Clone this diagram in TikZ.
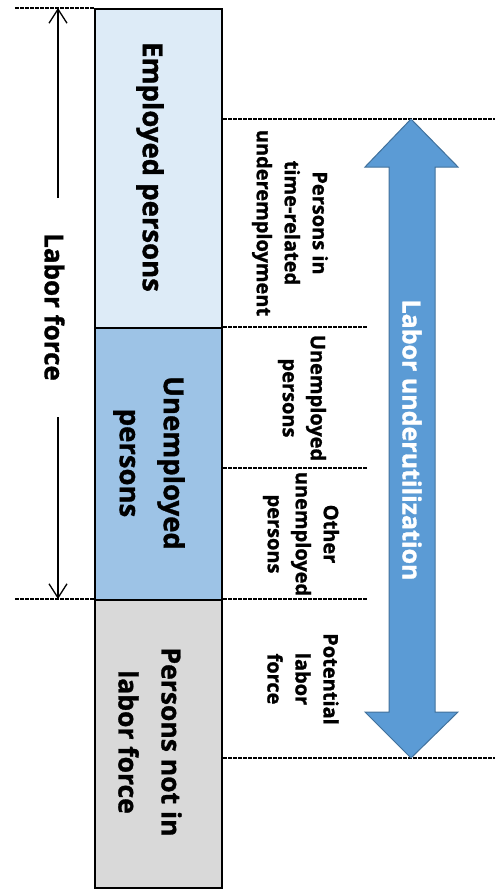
\documentclass[tikz,border=0pt]{standalone}
\usepackage{fontspec}
\setmainfont{Open Sans}[BoldFeatures={FakeBold=1.2}]
\usetikzlibrary{arrows.meta}
\definecolor{empfill}{HTML}{DDEBF7}
\definecolor{unfill}{HTML}{9DC3E6}
\definecolor{nlffill}{HTML}{D9D9D9}
\definecolor{arrfill}{HTML}{5B9BD5}
\definecolor{arredge}{HTML}{41719C}
\begin{document}
\begin{tikzpicture}[x=1pt,y=-1pt,
  colbox/.style={draw=black, line width=2.4pt, minimum width=127pt, inner sep=0pt, anchor=north west},
  bigtxt/.style={rotate=-90, font=\fontsize{27.5}{44}\selectfont\bfseries, align=center, inner sep=0pt},
  smalltxt/.style={rotate=-90, font=\fontsize{20}{28}\selectfont\bfseries, align=center, inner sep=0pt},
  sep/.style={line width=2.4pt, dash pattern=on 4pt off 1pt},
  lfarrow/.style={line width=1.3pt, -{Straight Barb[length=14pt,width=18pt]}}
]
\useasboundingbox (0,0) rectangle (500,894);
% column boxes
\node[colbox, fill=empfill, minimum height=319pt] (emp) at (94,8) {};
\node[colbox, fill=unfill, minimum height=272pt] (unemp) at (94,327) {};
\node[colbox, fill=nlffill, minimum height=288pt] (nlf) at (94,599) {};
% column texts
\node[bigtxt] (emptxt) at (150,167) {Employed persons};
\node[bigtxt] (untxt) at (149,463) {Unemployed\\persons};
\node[bigtxt, font=\fontsize{26.5}{43}\selectfont\bfseries] (nlftxt) at (150,742) {Persons not in\\labor force};
% separators
\coordinate (l1) at (15,8);
\coordinate (l2) at (15,599);
\coordinate (r1) at (495,119);
\coordinate (r2) at (368,327);
\coordinate (r3) at (368,468);
\coordinate (r4) at (368,599);
\coordinate (r5) at (495,758);
\draw[sep] (l1) -- (emp.north west);
\draw[sep] (l2) -- (nlf.north west);
\draw[sep] (emp.east |- r1) -- (r1);
\draw[sep] (unemp.north east) -- (r2);
\draw[sep] (unemp.east |- r3) -- (r3);
\draw[sep] (nlf.north east) -- (r4);
\draw[sep] (nlf.east |- r5) -- (r5);
% labor force
\node[bigtxt, font=\fontsize{26}{30}\selectfont\bfseries] (lf) at (54.5,307) {Labor force};
\coordinate (lfa) at (58,198);
\coordinate (lfb) at (58,417);
\draw[lfarrow] (lfa) -- (58,8);
\draw[lfarrow] (lfb) -- (58,599);
% small texts
\node[smalltxt] (tru) at (290,223) {Persons in\\time-related\\underemployment};
\node[smalltxt] (unp) at (302,398) {Unemployed\\persons};
\node[smalltxt] (oup) at (301,534) {Other\\unemployed\\persons};
\node[smalltxt] (plf) at (303,679) {Potential\\labor\\force};
% big double arrow
\draw[fill=arrfill, draw=arredge, line width=1pt, line join=miter]
  (411,119) -- (458,167) -- (435,167) -- (435,712) -- (458,712) -- (411,758)
  -- (365,712) -- (389,712) -- (389,167) -- (365,167) -- cycle;
\node[rotate=-90, font=\fontsize{25}{30}\selectfont\bfseries, text=white, inner sep=0pt] (lu) at (412,440) {Labor underutilization};
\end{tikzpicture}
\end{document}
